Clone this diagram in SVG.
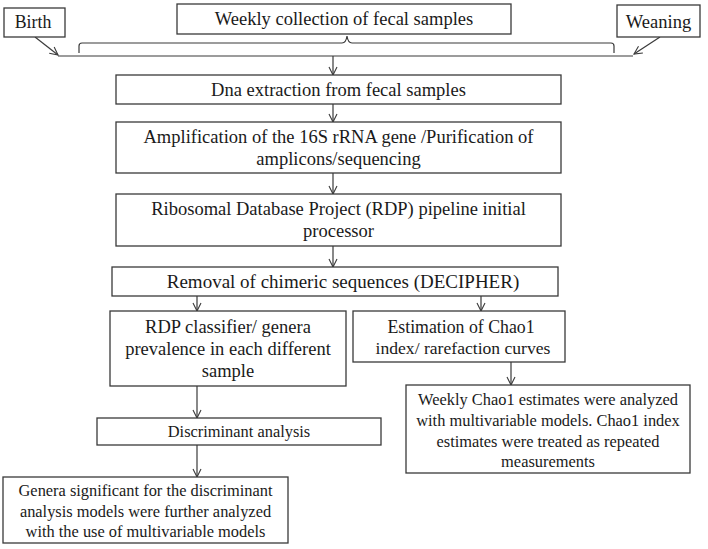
<svg xmlns="http://www.w3.org/2000/svg" width="708" height="549" viewBox="0 0 708 549">
<defs>
<marker id="arr" viewBox="0 0 10 10" refX="9" refY="5" markerWidth="10" markerHeight="10" markerUnits="userSpaceOnUse" orient="auto">
<polyline points="1,1 9,5 1,9" fill="none" stroke="#3a3a3a" stroke-width="1.1"/>
</marker>
<style>
.box{fill:#fff;stroke:#3a3a3a;stroke-width:1.3}
text{font-family:'Liberation Serif','Times New Roman','DejaVu Serif',serif;fill:#1a1a1a;text-anchor:middle}
.l{font-size:18.5px}
.s{font-size:16.4px}
.c{fill:none;stroke:#3a3a3a;stroke-width:1.2}
</style>
</defs>
<rect width="708" height="549" fill="#fff"/>
<g id="connectors">
<path class="c" d="M58,56 H633"/>
<path class="c" d="M79,53 V46 Q79,43 82,43 H342 Q346,43 347,36 Q348,43 352,43 H611 Q614,43 614,46 V53"/>
<path class="c" d="M35,37 L58,55" marker-end="url(#arr)"/>
<path class="c" d="M660,37 L634,54" marker-end="url(#arr)"/>
<path class="c" d="M333,56 V75" marker-end="url(#arr)"/>
<path class="c" d="M333,104 V122" marker-end="url(#arr)"/>
<path class="c" d="M333,173 V194" marker-end="url(#arr)"/>
<path class="c" d="M333,246 V267" marker-end="url(#arr)"/>
<path class="c" d="M197,296 V311" marker-end="url(#arr)"/>
<path class="c" d="M481,296 V311" marker-end="url(#arr)"/>
<path class="c" d="M197,386 V418" marker-end="url(#arr)"/>
<path class="c" d="M197,445 V477" marker-end="url(#arr)"/>
<path class="c" d="M511,362 V385" marker-end="url(#arr)"/>
</g>
<g id="birth">
<rect class="box" x="4" y="8" width="61" height="29"/>
<text class="l" x="33" y="28" style="font-size:17.8px">Birth</text>
</g>
<g id="weekly">
<rect class="box" x="177" y="4" width="334" height="30"/>
<text class="l" x="344" y="25">Weekly collection of fecal samples</text>
</g>
<g id="weaning">
<rect class="box" x="617" y="5" width="83" height="32"/>
<text class="l" x="658.5" y="28">Weaning</text>
</g>
<g id="dna">
<rect class="box" x="116" y="75" width="445" height="29"/>
<text class="l" x="338.5" y="96">Dna extraction from fecal samples</text>
</g>
<g id="amplification">
<rect class="box" x="116" y="122" width="445" height="51"/>
<text class="l" x="338.5" y="143">Amplification of the 16S rRNA gene /Purification of</text>
<text class="l" x="338.5" y="165">amplicons/sequencing</text>
</g>
<g id="rdp-pipeline">
<rect class="box" x="116" y="194" width="445" height="52"/>
<text class="l" x="338.5" y="215">Ribosomal Database Project (RDP) pipeline initial</text>
<text class="l" x="338.5" y="237">processor</text>
</g>
<g id="removal">
<rect class="box" x="112" y="267" width="446" height="29"/>
<text class="l" x="343" y="288" style="font-size:19px">Removal of chimeric sequences (DECIPHER)</text>
</g>
<g id="rdp-classifier">
<rect class="box" x="110" y="311" width="236" height="75"/>
<text class="l" x="228" y="333">RDP classifier/ genera</text>
<text class="l" x="228" y="355">prevalence in each different</text>
<text class="l" x="228" y="377">sample</text>
</g>
<g id="estimation">
<rect class="box" x="353" y="311" width="212" height="51"/>
<text class="l" x="461" y="333" style="font-size:17.8px">Estimation of Chao1</text>
<text class="l" x="463" y="354" style="font-size:17.6px">index/ rarefaction curves</text>
</g>
<g id="discriminant">
<rect class="box" x="97" y="418" width="284" height="27"/>
<text class="s" x="239" y="437">Discriminant analysis</text>
</g>
<g id="weekly-chao1">
<rect class="box" x="406" y="385" width="284" height="88"/>
<text class="s" x="548" y="405">Weekly Chao1 estimates were analyzed</text>
<text class="s" x="548" y="426">with multivariable models. Chao1 index</text>
<text class="s" x="548" y="447">estimates were treated as repeated</text>
<text class="s" x="548" y="467">measurements</text>
</g>
<g id="genera">
<rect class="box" x="3" y="477" width="285" height="66"/>
<text class="s" x="145.5" y="496">Genera significant for the discriminant</text>
<text class="s" x="145.5" y="517">analysis models were further analyzed</text>
<text class="s" x="145.5" y="537">with the use of multivariable models</text>
</g>
</svg>
